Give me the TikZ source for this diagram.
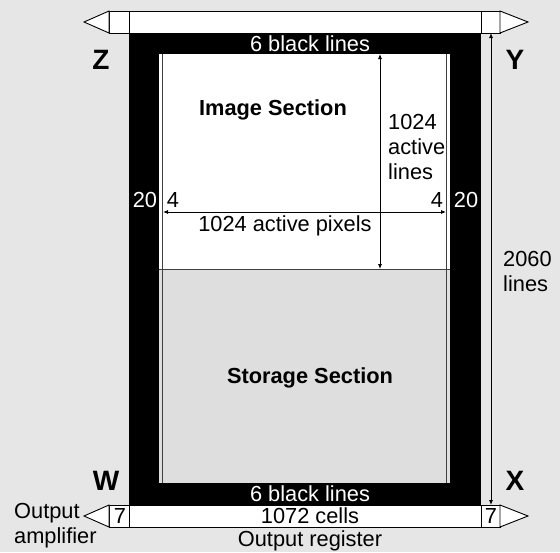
\documentclass[tikz,border=0pt]{standalone}
\usepackage{fontspec}
\setmainfont{Liberation Sans}
\definecolor{bgc}{HTML}{E6E6E6}
\definecolor{storc}{HTML}{DEDEDE}
\definecolor{linec}{HTML}{404040}
\tikzset{
  lab/.style={inner sep=0pt,font=\fontsize{21.8}{25}\selectfont,align=center},
  wlab/.style={lab,text=white},
  blab/.style={inner sep=0pt,font=\fontsize{21.8}{25}\selectfont\bfseries},
  corner/.style={inner sep=0pt,font=\fontsize{28}{30}\selectfont\bfseries},
  reg/.style={draw=black,line width=0.9pt,fill=white},
  dim/.style={draw=black,line width=0.8pt,{Latex[length=5pt,width=4pt]}-{Latex[length=5pt,width=4pt]}},
}
\usetikzlibrary{arrows.meta}
\begin{document}
\begin{tikzpicture}[x=1pt,y=-1pt]
\useasboundingbox (0,0) rectangle (560,552);
\fill[bgc] (0,0) rectangle (560,552);
% frame
\fill[black] (129,33) rectangle (481,505);
\fill[white] (159,54) rectangle (450,270);
\fill[storc] (159,270) rectangle (450,483);
\draw[linec,line width=0.9pt] (162.5,54) -- (162.5,483);
\draw[linec,line width=0.9pt] (446.5,54) -- (446.5,483);
\draw[linec,line width=0.9pt] (159,269.5) -- (450,269.5);
% registers
\draw[reg] (109,11) rectangle (500,33);
\draw[reg] (109,505) rectangle (500,527);
\draw[reg] (129,11) -- (129,33);
\draw[reg] (481,11) -- (481,33);
\draw[reg] (129,505) -- (129,527);
\draw[reg] (481,505) -- (481,527);
\draw[reg] (109,11) -- (84,22) -- (109,33) -- cycle;
\draw[reg] (500,11) -- (528,22) -- (500,33) -- cycle;
\draw[reg] (109,505) -- (84,516) -- (109,527) -- cycle;
\draw[reg] (500,505) -- (528,516) -- (500,527) -- cycle;
% labels
\node[wlab] (t6) at (310,44) {6 black lines};
\node[wlab] (b6) at (310,494) {6 black lines};
\node[lab] (c) at (310,516) {1072 cells};
\node[lab] (or) at (310,541) {Output register};
\node[blab] (img) at (273,110) {Image Section};
\node[blab] (sto) at (310,378) {Storage Section};
\node[lab,align=left,anchor=west] (act) at (388,147) {1024\\active\\lines};
\node[lab] (pix) at (285,226) {1024 active pixels};
\node[wlab] (l20) at (145,200) {20};
\node[wlab] (r20) at (466,200) {20};
\node[lab] (l4) at (173,200) {4};
\node[lab] (r4) at (437,200) {4};
\node[lab,align=left,anchor=west] (tot) at (503,271) {2060\\lines};
\node[lab] (l7) at (120,516) {7};
\node[lab] (r7) at (491,516) {7};
\node[lab,align=left,anchor=west] (amp) at (14,526) {Output\\amplifier};
\node[corner] (z) at (101,60) {Z};
\node[corner] (y) at (515,60) {Y};
\node[corner] (w) at (106,481) {W};
\node[corner] (x) at (515,481) {X};
% dims
\coordinate (hl) at (163,212);
\coordinate (hr) at (446,212);
\coordinate (vt) at (380,54);
\coordinate (vb) at (380,269);
\coordinate (ot) at (491,33);
\coordinate (ob) at (491,505);
\draw[dim] (hl) -- (hr);
\draw[dim] (vt) -- (vb);
\draw[dim] (ot) -- (ob);
\end{tikzpicture}
\end{document}
